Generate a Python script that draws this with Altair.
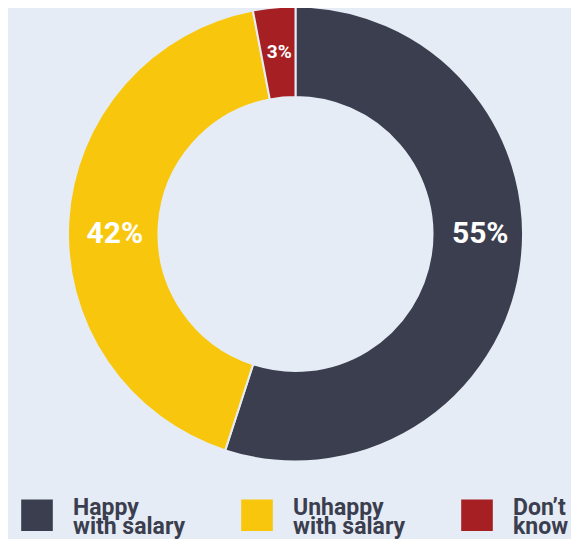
import altair as alt
import pandas as pd

categories = ["Happy with salary", "Unhappy with salary", "Don’t know"]
values = [55, 42, 3]
colors = ["#3b3e4f", "#f8c70d", "#a61f23"]
order_idx = [1, 2, 3]

BG = "#e6ecf5"

df = pd.DataFrame({
    "category": categories,
    "value": values,
    "ord": order_idx,
    "label": [f"{v}%" for v in values],
})

color_scale = alt.Scale(domain=categories, range=colors)

base = alt.Chart(df).encode(
    theta=alt.Theta("value:Q", stack=True),
    order=alt.Order("ord:Q", sort="ascending"),
)

arcs = base.mark_arc(innerRadius=137, outerRadius=227.5, stroke=BG, strokeWidth=2).encode(
    color=alt.Color(
        "category:N",
        scale=color_scale,
        sort=categories,
        legend=alt.Legend(
            title=None,
            orient="none",
            legendX=1,
            legendY=491,
            direction="horizontal",
            columns=3,
            symbolType="square",
            symbolSize=1000,
            symbolStrokeWidth=0,
            symbolOpacity=1,
            labelFont="Roboto",
            labelFontSize=23,
            labelFontWeight="bold",
            labelColor="#3b3e4f",
            labelOffset=20,
            labelLimit=300,
            labelBaseline="alphabetic",
            columnPadding=55,
            labelExpr="split(replace(replace(datum.label, ' with', '|with'), 'Don’t ', 'Don’t|'), '|')",
        ),
    )
)

def text_layer(cat, size, dx, dy):
    return base.mark_text(
        radius=183, font="Roboto", fontWeight="bold", fontSize=size,
        color="white", dx=dx, dy=dy, align="center", baseline="middle",
    ).encode(
        text=alt.condition(alt.datum.category == cat, "label:N", alt.value("")),
    )

# Centre at (287.5, 226) in plot coords; label midpoints nudged to match the original
t1 = text_layer(categories[0], 30, 4, -28.5)
t2 = text_layer(categories[1], 30, 2, 11.5)
t3 = text_layer(categories[2], 19, 1, 0)

chart = alt.layer(arcs, t1, t2, t3).properties(
    width=551, height=452,
    padding={"left": 12, "top": 0, "right": 0, "bottom": 79},
    autosize=alt.AutoSizeParams(type="none"),
    background=BG,
).configure(style={"guide-label": {"lineHeight": 18.5}}).configure_view(stroke=None)

chart.save("out.html", embed_options={"renderer": "svg", "actions": False})
